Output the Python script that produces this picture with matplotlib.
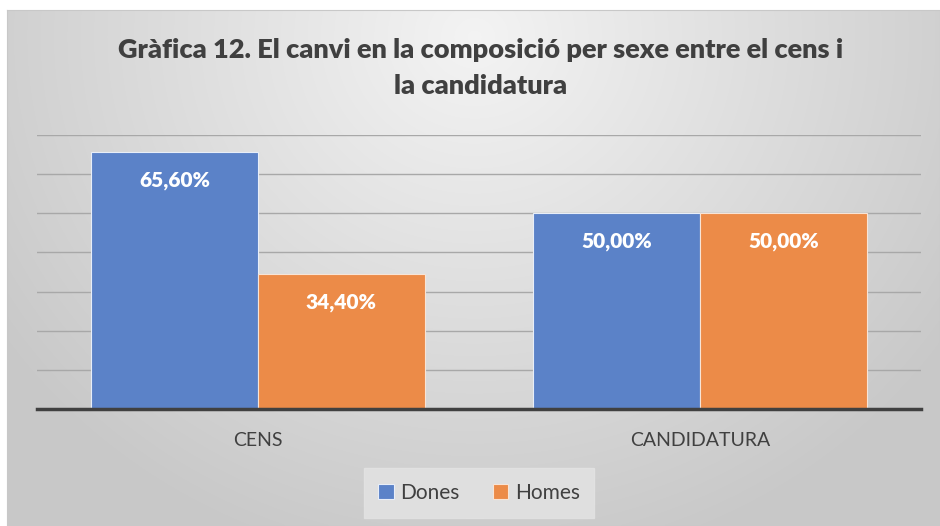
import numpy as np
import matplotlib.pyplot as plt

categories = ["CENS", "CANDIDATURA"]
dones = [65.60, 50.00]
homes = [34.40, 50.00]
series_names = ["Dones", "Homes"]
title = "Gràfica 12. El canvi en la composició per sexe entre el cens i\nla candidatura"

blue = "#5b82c8"
orange = "#ec8b48"
text_col = "#404040"

plt.rcParams['font.family'] = ['Lato', 'DejaVu Sans']

fig = plt.figure(figsize=(9.4, 5.26), dpi=100)

# gradient background panel
bg = fig.add_axes([7 / 940, 0, 933 / 940, 1 - 10 / 526])
h, w = 200, 360
yy, xx = np.mgrid[0:h, 0:w]
cx, cy = w * 0.5, h * 0.05
r = np.sqrt(((xx - cx) / (w * 0.62)) ** 2 + ((yy - cy) / (h * 1.05)) ** 2)
r = np.clip(r, 0, 1)
vals = 0.955 - 0.17 * r
img = np.dstack([vals, vals, vals])
bg.imshow(img, aspect="auto", extent=[0, 1, 0, 1], interpolation="bilinear")
bg.set_xlim(0, 1)
bg.set_ylim(0, 1)
for s in bg.spines.values():
    s.set_color("#c8c8c8")
bg.set_xticks([])
bg.set_yticks([])

ax = fig.add_axes([37 / 940, 1 - 409 / 526, 884 / 940, 274 / 526])
ax.patch.set_alpha(0)
x = np.arange(len(categories))
bw = 0.377
b1 = ax.bar(x - bw / 2, dones, bw, color=blue, edgecolor="#e8eef8", linewidth=0.8, label=series_names[0], zorder=3)
b2 = ax.bar(x + bw / 2, homes, bw, color=orange, edgecolor="#f8e4d6", linewidth=0.8, label=series_names[1], zorder=3)

for bars in (b1, b2):
    for rect in bars:
        v = rect.get_height()
        ax.text(rect.get_x() + rect.get_width() / 2, v - 7.3, f"{v:.2f}%".replace(".", ","),
                ha="center", va="center", color="white", fontsize=15, fontweight="heavy", zorder=4)

ax.set_xlim(-0.5, 1.5)
ax.set_ylim(0, 70)
ax.set_yticks(np.arange(0, 71, 10))
ax.yaxis.grid(True, color="#a8a8a8", linewidth=1.0, zorder=0)
ax.tick_params(axis="y", left=False, labelleft=False)
ax.tick_params(axis="x", bottom=False, pad=13, labelsize=14, labelcolor=text_col)
ax.set_xticks(x)
ax.set_xticklabels(categories)
for s in ["top", "right", "left"]:
    ax.spines[s].set_visible(False)
ax.spines["bottom"].set_color(text_col)
ax.spines["bottom"].set_linewidth(2.5)
ax.spines["bottom"].set_zorder(5)

fig.text(481 / 940, 1 - 68 / 526, title, ha="center", va="center", fontsize=19.5, fontweight="heavy",
         color=text_col, linespacing=1.55)

leg = fig.legend(loc="center", bbox_to_anchor=(479 / 940, 1 - 493 / 526), ncol=2, frameon=True,
                 fontsize=15, handlelength=0.75, handleheight=0.75, handletextpad=0.3, columnspacing=1.6,
                 borderpad=0.7)
leg.get_frame().set_facecolor("#e4e4e4")
leg.get_frame().set_edgecolor("#e4e4e4")
leg.get_frame().set_boxstyle("square", pad=0)
for t in leg.get_texts():
    t.set_color(text_col)

fig.savefig("out.png", dpi=100)
